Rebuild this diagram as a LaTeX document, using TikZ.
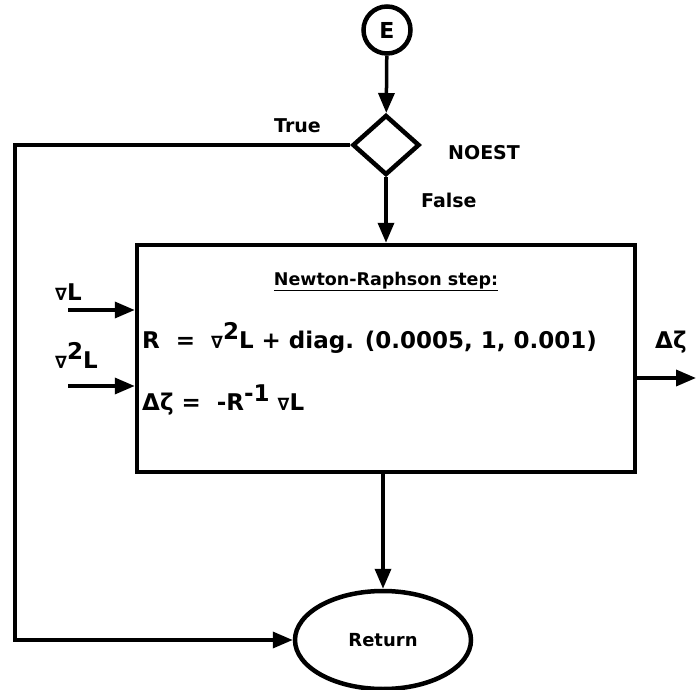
\documentclass[tikz,border=0pt]{standalone}
\usepackage{fontspec}
\setmainfont{DejaVu Sans}
\newfontfamily\symfont{DejaVu Sans}
\usetikzlibrary{arrows.meta,shapes.geometric}
\newcommand{\nab}{{\symfont\fontsize{17}{17}\selectfont ∇}}
\newcommand{\sqr}{\raisebox{9pt}{2}}
\begin{document}
\begin{tikzpicture}[x=1pt,y=-1pt,
  arr/.style={line width=3.5pt,-{Triangle[length=20pt,width=16pt]}},
  shp/.style={draw,line width=4.5pt,inner sep=0pt},
  lbl/.style={font=\bfseries\fontsize{19}{22}\selectfont,inner sep=0pt},
  txt/.style={font=\bfseries\fontsize{23}{26}\selectfont,inner sep=0pt,anchor=base west}]
\useasboundingbox (0,0) rectangle (696,690);
\node[shp,circle,minimum size=47pt,font=\bfseries\fontsize{22}{22}\selectfont] (E) at (387,30) {E};
\node[shp,diamond,minimum width=67pt,minimum height=60pt] (D) at (386,145) {};
\node[shp,rectangle,minimum width=498pt,minimum height=227pt] (B) at (386,358.5) {};
\node[shp,ellipse,minimum width=176pt,minimum height=98pt,font=\bfseries\fontsize{18}{22}\selectfont] (R) at (383,640) {Return};

\node[lbl,anchor=base west] (tT) at (274,132) {True};
\node[lbl,anchor=base west] (tN) at (448,160) {NOEST};
\node[lbl,anchor=base west] (tF) at (421,207) {False};

\node[font=\bfseries\fontsize{17.5}{22}\selectfont,inner sep=0pt,anchor=base] (title) at (386,285) {\underline{Newton-Raphson step:}};
\node[txt] (l1) at (142,348) {R \ = \ \nab\sqr L + diag. (0.0005, 1, 0.001)};
\node[txt] (l2) at (142,410) {Δζ = \ -R\raisebox{9pt}{-1} \nab L};

\node[txt] (g1) at (55,300) {\nab L};
\node[txt] (g2) at (55,368) {\nab\sqr L};
\node[txt] (dz) at (655,348) {Δζ};

\coordinate (c1) at (15,145);
\coordinate (c2) at (15,640);
\coordinate (in1) at (68,310);
\coordinate (in2) at (68,386);
\coordinate (out) at (696,378);

\draw[arr] (E) -- (D);
\draw[arr] (D.south) -- (B.north);
\draw[arr] (B.south -| R.north) -- (R.north);
\draw[arr] (D.west) -- (c1) -- (c2) -- (R.west);
\draw[arr] (in1) -- (in1 -| B.west);
\draw[arr] (in2) -- (in2 -| B.west);
\draw[arr] (B.east |- out) -- (out);
\end{tikzpicture}
\end{document}
